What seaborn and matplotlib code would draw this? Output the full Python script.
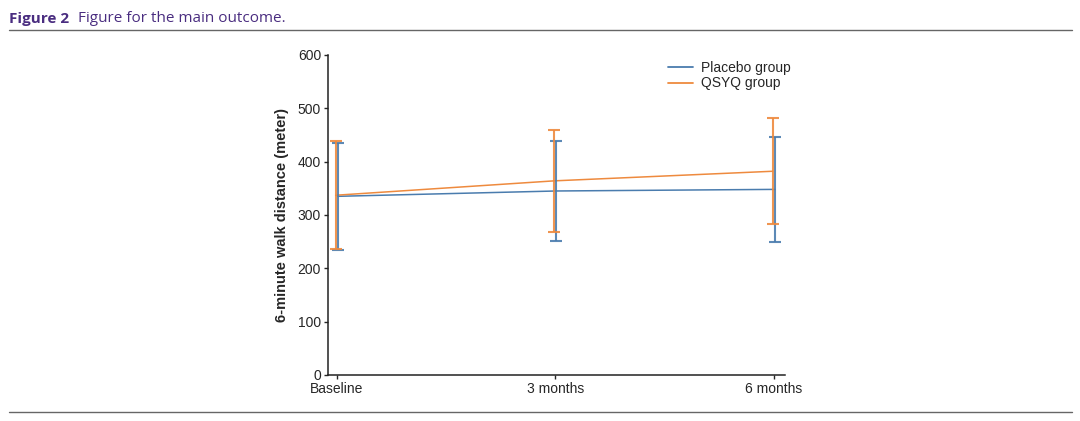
import matplotlib
matplotlib.use("Agg")
import matplotlib.pyplot as plt
import numpy as np
import pandas as pd
import seaborn as sns

# values (mean +/- SD)
timepoints = ["Baseline", "3 months", "6 months"]
placebo_mean = [335, 345, 348]
placebo_sd = [100, 94, 99]
qsyq_mean = [337, 364, 382]
qsyq_sd = [101, 95, 99]
group_names = ["Placebo group", "QSYQ group"]

BLUE = "#4a7cae"
ORANGE = "#ee8a3e"

sns.set_theme(style="ticks")
plt.rcParams["font.family"] = ["Liberation Sans", "DejaVu Sans"]

df = pd.DataFrame({
    "time": np.tile(np.arange(len(timepoints)), 2),
    "mean": placebo_mean + qsyq_mean,
    "sd": placebo_sd + qsyq_sd,
    "group": np.repeat(group_names, len(timepoints)),
})
offsets = {"Placebo group": 0.005, "QSYQ group": -0.005}
df["x"] = df["time"] + df["group"].map(offsets)

fig = plt.figure(figsize=(10.8, 4.21), dpi=100)
ax = fig.add_axes([0.3037, 0.1093, 0.4230, 0.7601])

sns.lineplot(data=df, x="x", y="mean", hue="group", hue_order=group_names,
             palette=[BLUE, ORANGE], linewidth=1.1, ax=ax, legend=True)
for g, c in zip(group_names, [BLUE, ORANGE]):
    d = df[df["group"] == g]
    ax.errorbar(d["x"], d["mean"], yerr=d["sd"], fmt="none", ecolor=c,
                elinewidth=1.5, capsize=4.5, capthick=1.5, alpha=0.9)

ax.set_xlim(-0.04, 2.05)
ax.set_ylim(0, 600)
ax.set_xticks(range(len(timepoints)))
ax.set_xticklabels(timepoints, fontsize=10)
ax.set_yticks(range(0, 601, 100))
ax.tick_params(axis="y", labelsize=10, length=3, width=1, pad=2)
ax.tick_params(axis="x", length=3, width=1, pad=2)
ax.set_xlabel("")
ax.set_ylabel("6-minute walk distance (meter)", fontsize=10.5, fontweight="bold", labelpad=6)
for s in ["top", "right"]:
    ax.spines[s].set_visible(False)
for s in ["left", "bottom"]:
    ax.spines[s].set_linewidth(1.1)
    ax.spines[s].set_color("#222222")

leg = ax.legend(loc="upper right", bbox_to_anchor=(1.04, 1.02), frameon=False,
                fontsize=10, handlelength=1.75, handletextpad=0.6, labelspacing=0.1)
for line in leg.get_lines():
    line.set_linewidth(1.3)

# caption and rules
fig.text(0.008, 0.955, "Figure 2", fontsize=11, fontweight="bold", color="#4a2d80",
         family=["Open Sans", "DejaVu Sans"], va="center")
fig.text(0.072, 0.955, "Figure for the main outcome.", fontsize=11, color="#4a2d80",
         family=["Open Sans", "DejaVu Sans"], va="center")
fig.add_artist(plt.Line2D([0.008, 0.993], [0.929, 0.929], color="#666666", linewidth=1))
fig.add_artist(plt.Line2D([0.008, 0.993], [0.021, 0.021], color="#666666", linewidth=1))

fig.savefig("out.png", dpi=100)
